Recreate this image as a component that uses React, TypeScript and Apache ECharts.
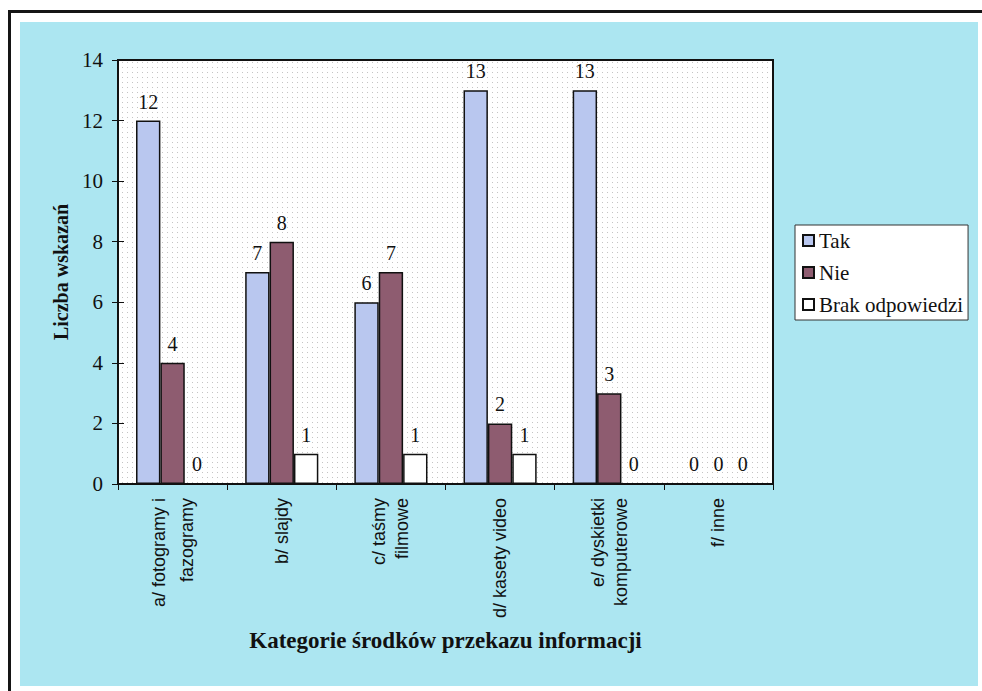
import React, { useEffect, useRef } from "react";
import * as echarts from "echarts";

const categories = [
  "a/ fotogramy i\nfazogramy",
  "b/ slajdy",
  "c/ taśmy\nfilmowe",
  "d/ kasety video",
  "e/ dyskietki\nkomputerowe",
  "f/ inne",
];
const seriesNames = ["Tak", "Nie", "Brak odpowiedzi"];
const takValues = [12, 7, 6, 13, 13, 0];
const nieValues = [4, 8, 7, 2, 3, 0];
const brakValues = [0, 1, 1, 1, 0, 0];
const yTicks = [0, 2, 4, 6, 8, 10, 12, 14];

const SERIF = "'Liberation Serif', 'Times New Roman', serif";
const SANS = "'Liberation Sans', Arial, sans-serif";

function makeDots(): string {
  const c = document.createElement("canvas");
  c.width = 5;
  c.height = 5;
  const ctx = c.getContext("2d")!;
  ctx.fillStyle = "#ffffff";
  ctx.fillRect(0, 0, 5, 5);
  ctx.fillStyle = "#c4c4c4";
  ctx.fillRect(2, 2, 1, 1);
  return c.toDataURL();
}

export default function App() {
  const ref = useRef<HTMLDivElement>(null);
  useEffect(() => {
    if (!ref.current) return;
    const chart = echarts.init(ref.current, undefined, { renderer: "svg" });
    const dots = makeDots();
    const colors = ["#b9c7ef", "#8e5c70", "#ffffff"];
    const values = [takValues, nieValues, brakValues];
    chart.setOption({
      animation: false,
      backgroundColor: "transparent",
      grid: {
        left: 118,
        top: 60,
        right: 209,
        bottom: 207,
        show: true,
        borderColor: "#111",
        borderWidth: 2,
        backgroundColor: { image: dots, repeat: "repeat", imageWidth: 5, imageHeight: 5 } as any,
      },
      legend: {
        orient: "vertical",
        left: 795,
        top: 225,
        data: seriesNames,
        icon: "rect",
        itemWidth: 11,
        itemHeight: 11,
        itemGap: 11,
        padding: [5, 5, 5, 7],
        backgroundColor: "#ffffff",
        borderColor: "#333",
        borderWidth: 1,
        textStyle: { fontFamily: SERIF, fontSize: 21, color: "#111" },
      },
      xAxis: {
        type: "category",
        data: categories.map((c, i) =>
          i === 0 ? { value: c, textStyle: { lineHeight: 28 } } : c
        ),
        name: "Kategorie środków przekazu informacji",
        nameLocation: "middle",
        nameGap: 145,
        nameTextStyle: { fontFamily: SERIF, fontSize: 23, fontWeight: "bold", color: "#111" },
        axisLine: { lineStyle: { color: "#111", width: 2 } },
        axisTick: { show: true, length: 6, lineStyle: { color: "#111", width: 1 } },
        axisLabel: {
          rotate: 90,
          margin: 14,
          interval: 0,
          fontFamily: SANS,
          fontSize: 18,
          lineHeight: 23,
          color: "#111",
        },
      },
      yAxis: [
        {
          type: "value",
          min: 0,
          max: 14,
          interval: 2,
          name: "Liczba wskazań",
          nameLocation: "middle",
          nameGap: 47,
          nameTextStyle: { fontFamily: SERIF, fontSize: 20, fontWeight: "bold", color: "#111" },
          axisLine: { show: true, lineStyle: { color: "#111", width: 2 } },
          axisTick: { show: true, length: 6, lineStyle: { color: "#111", width: 1 } },
          axisLabel: {
            margin: 15,
            fontFamily: SERIF,
            fontSize: 21,
            color: "#111",
            formatter: (v: number) => (yTicks.includes(v) ? String(v) : ""),
          },
          splitLine: { show: false },
        },
        {
          type: "value",
          min: 0,
          max: 14,
          interval: 2,
          position: "left",
          axisLine: { show: false },
          axisTick: { show: true, inside: true, length: 6, lineStyle: { color: "#111", width: 1 } },
          axisLabel: { show: false },
          splitLine: { show: false },
        },
      ],
      series: seriesNames.map((name, i) => ({
        name,
        type: "bar",
        yAxisIndex: 0,
        data: values[i],
        barGap: "0%",
        barCategoryGap: "33%",
        itemStyle: { color: colors[i], borderColor: "#111", borderWidth: 1.5 },
        label: {
          show: true,
          position: "top",
          distance: 9,
          fontFamily: SERIF,
          fontSize: 20,
          color: "#111",
        },
      })),
    });
    return () => chart.dispose();
  }, []);

  return (
    <div style={{ position: "fixed", left: 0, top: 0, width: 982, height: 691, background: "#ffffff", overflow: "hidden" }}>
      <div
        style={{
          position: "absolute",
          left: 8,
          top: 10,
          width: 1000,
          height: 720,
          borderLeft: "3px solid #151515",
          borderTop: "3px solid #151515",
        }}
      />
      <div style={{ position: "absolute", left: 20, top: 22, width: 958, height: 664, background: "#ace6f1" }} />
      <div ref={ref} style={{ position: "absolute", left: 0, top: 0, width: 982, height: 691 }} />
    </div>
  );
}
